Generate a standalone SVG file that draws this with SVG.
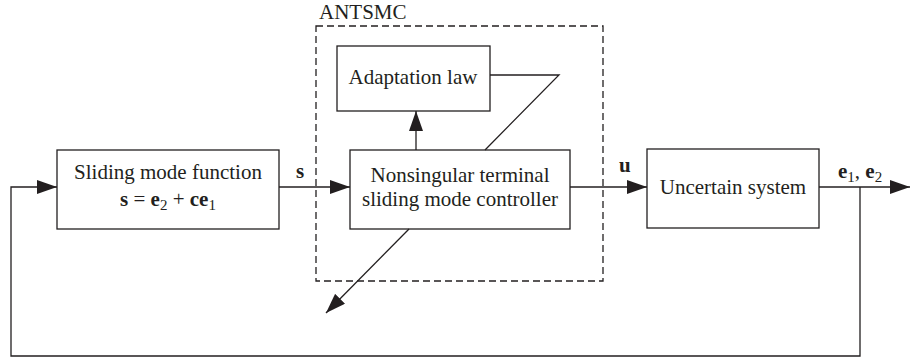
<svg xmlns="http://www.w3.org/2000/svg" width="910" height="362" viewBox="0 0 910 362">
<style>
.box{fill:#fff;stroke:#231f20;stroke-width:1.3}
.ln{fill:none;stroke:#231f20;stroke-width:1.3}
.dash{fill:none;stroke:#231f20;stroke-width:1.3;stroke-dasharray:7 4}
text{font-family:"Liberation Serif","Times New Roman",serif;fill:#231f20;font-size:21px}
.c{text-anchor:middle}
.b{font-weight:bold}
.sub{font-size:15px}
</style>
<defs>
<marker id="ah" markerUnits="userSpaceOnUse" markerWidth="21" markerHeight="14" refX="20" refY="7" orient="auto">
<path d="M0,0 L20,7 L0,14 Z" fill="#231f20"/>
</marker>
</defs>
<rect width="910" height="362" fill="#fff"/>
<g id="antsmc">
<rect class="dash" x="316" y="26" width="287" height="255"/>
<text x="319" y="19">ANTSMC</text>
</g>
<g id="slidingFn">
<rect class="box" x="57" y="150" width="222" height="79"/>
<text class="c" x="168" y="179">Sliding mode function</text>
<text class="c" x="168" y="206"><tspan class="b">s</tspan> = <tspan class="b">e</tspan><tspan class="sub" dy="4">2</tspan><tspan dy="-4"> + </tspan><tspan class="b">ce</tspan><tspan class="sub" dy="4">1</tspan></text>
</g>
<g id="adaptation">
<rect class="box" x="337" y="46" width="153" height="65"/>
<text class="c" x="413" y="84">Adaptation law</text>
</g>
<g id="ntsmc">
<rect class="box" x="350" y="150" width="220" height="79"/>
<text class="c" x="460" y="182">Nonsingular terminal</text>
<text class="c" x="460" y="206">sliding mode controller</text>
</g>
<g id="plant">
<rect class="box" x="647" y="149" width="172" height="79"/>
<text class="c" x="733" y="194">Uncertain system</text>
</g>
<g id="connectors">
<path class="ln" d="M279,187 H350" marker-end="url(#ah)"/>
<path class="ln" d="M570,187 H647" marker-end="url(#ah)"/>
<path class="ln" d="M819,187 H910" marker-end="url(#ah)"/>
<path class="ln" d="M860,187 V356 H11 V187 H57" marker-end="url(#ah)"/>
<path class="ln" d="M416,150 V111" marker-end="url(#ah)"/>
<path class="ln" d="M490,75 H559 L485,150"/>
<path class="ln" d="M409,229 L326,313" marker-end="url(#ah)"/>
</g>
<g id="labels">
<text class="b" x="296" y="178">s</text>
<text class="b" x="619" y="172">u</text>
<text x="838" y="178"><tspan class="b">e</tspan><tspan class="sub" dy="4">1</tspan><tspan dy="-4">, </tspan><tspan class="b">e</tspan><tspan class="sub" dy="4">2</tspan></text>
</g>
</svg>
